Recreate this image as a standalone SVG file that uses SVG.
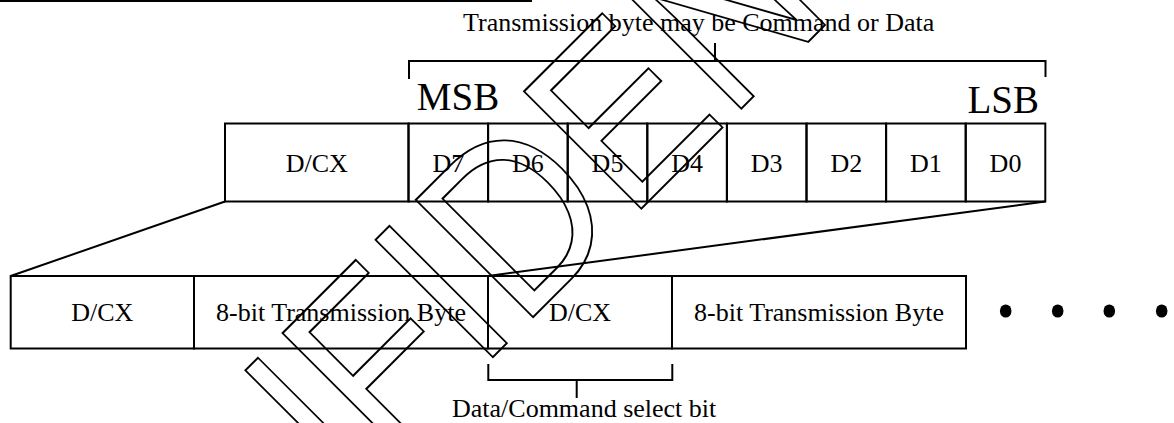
<svg xmlns="http://www.w3.org/2000/svg" width="1174" height="423" viewBox="0 0 1174 423">
<style>
.box{fill:none;stroke:#000;stroke-width:2}
.ln{fill:none;stroke:#000;stroke-width:2}
.t{font-family:"Liberation Serif","Times New Roman",serif;font-size:26px;fill:#000}
.c{text-anchor:middle}
.big{font-family:"Liberation Serif","Times New Roman",serif;font-size:39px;fill:#000}
.wm{font-family:"Liberation Sans",Arial,sans-serif;font-size:241px;fill:none;stroke:#000;stroke-width:2}
</style>
<rect width="1174" height="423" fill="#fff"/>
<line class="ln" x1="0" y1="1" x2="532" y2="1"/>

<g id="title">
<text class="t" x="463" y="31">Transmission byte may be Command or Data</text>
</g>
<g id="byte-bracket">
<path class="ln" d="M409,79 V61 H1045.5 V77 M715,61 V43"/>
</g>
<g id="msb"><text class="big" x="416.8" y="109.5">MSB</text></g>
<g id="lsb"><text class="big" x="1039" y="112.5" text-anchor="end">LSB</text></g>

<g id="top-dcx"><rect class="box" x="225" y="123.5" width="183.5" height="78"/><text class="t c" x="316.8" y="171.5">D/CX</text></g>
<g id="d7"><rect class="box" x="408.5" y="123.5" width="79.6" height="78"/><text class="t c" x="448.3" y="171.5">D7</text></g>
<g id="d6"><rect class="box" x="488.1" y="123.5" width="79.6" height="78"/><text class="t c" x="527.9" y="171.5">D6</text></g>
<g id="d5"><rect class="box" x="567.7" y="123.5" width="79.6" height="78"/><text class="t c" x="607.5" y="171.5">D5</text></g>
<g id="d4"><rect class="box" x="647.3" y="123.5" width="79.6" height="78"/><text class="t c" x="687.1" y="171.5">D4</text></g>
<g id="d3"><rect class="box" x="726.9" y="123.5" width="79.6" height="78"/><text class="t c" x="766.7" y="171.5">D3</text></g>
<g id="d2"><rect class="box" x="806.5" y="123.5" width="79.6" height="78"/><text class="t c" x="846.3" y="171.5">D2</text></g>
<g id="d1"><rect class="box" x="886.1" y="123.5" width="79.6" height="78"/><text class="t c" x="925.9" y="171.5">D1</text></g>
<g id="d0"><rect class="box" x="965.7" y="123.5" width="79.6" height="78"/><text class="t c" x="1005.5" y="171.5">D0</text></g>

<g id="connectors">
<line class="ln" x1="225" y1="201.5" x2="10.7" y2="276"/>
<line class="ln" x1="1045.3" y1="201.5" x2="488" y2="276"/>
</g>

<g id="bottom-dcx-1"><rect class="box" x="10.7" y="276" width="183.3" height="72.5"/><text class="t c" x="102.3" y="320.5">D/CX</text></g>
<g id="bottom-byte-1"><rect class="box" x="194" y="276" width="294" height="72.5"/><text class="t c" x="341" y="320.5">8-bit Transmission Byte</text></g>
<g id="bottom-dcx-2"><rect class="box" x="488" y="276" width="184" height="72.5"/><text class="t c" x="580" y="320.5">D/CX</text></g>
<g id="bottom-byte-2"><rect class="box" x="672" y="276" width="294" height="72.5"/><text class="t c" x="819" y="320.5">8-bit Transmission Byte</text></g>

<g id="ellipsis">
<ellipse cx="1005.7" cy="311" rx="5.8" ry="6.6"/>
<ellipse cx="1057.7" cy="311" rx="5.8" ry="6.6"/>
<ellipse cx="1109.3" cy="311" rx="5.8" ry="6.6"/>
<ellipse cx="1161.7" cy="311" rx="5.8" ry="6.6"/>
</g>

<g id="select-bracket">
<path class="ln" d="M488.3,364 V380 H672.3 V364 M576.7,380 V398"/>
<text class="t" x="452" y="416.5">Data/Command select bit</text>
</g>

<g id="watermark">
<text class="wm" transform="translate(54.2,795.9) rotate(-45) scale(0.88,1)">CONFIDENTIAL</text>
</g>
</svg>
